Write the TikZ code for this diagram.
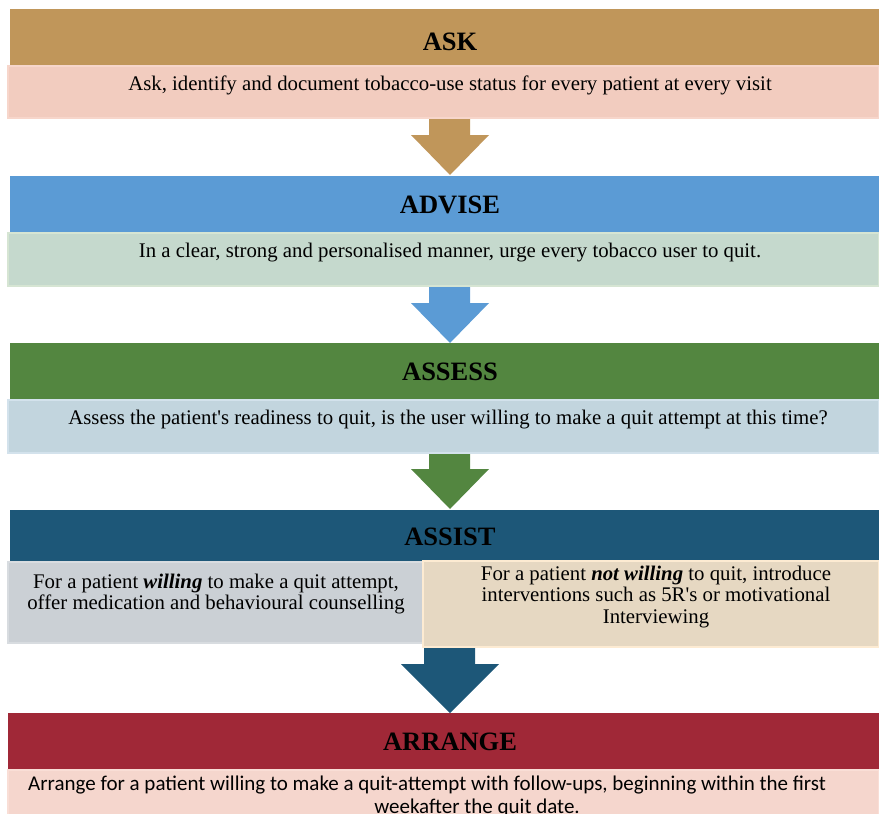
\documentclass[tikz,border=0pt]{standalone}
\usepackage{fontspec}
\setmainfont{Liberation Serif}[Ligatures=TeXOff]
\newfontfamily\calfont{Carlito}
\definecolor{askH}{RGB}{192,150,90}
\definecolor{askT}{RGB}{242,204,191}
\definecolor{askTb}{RGB}{247,214,203}
\definecolor{advH}{RGB}{91,155,213}
\definecolor{advT}{RGB}{197,217,205}
\definecolor{advTb}{RGB}{214,229,211}
\definecolor{assH}{RGB}{83,134,64}
\definecolor{assT}{RGB}{194,213,222}
\definecolor{assTb}{RGB}{211,226,236}
\definecolor{asiH}{RGB}{29,87,120}
\definecolor{asiL}{RGB}{203,208,213}
\definecolor{asiLb}{RGB}{216,220,224}
\definecolor{asiR}{RGB}{230,216,194}
\definecolor{asiRb}{RGB}{253,235,210}
\definecolor{arrH}{RGB}{160,40,55}
\definecolor{arrT}{RGB}{245,214,205}
\definecolor{arrTb}{RGB}{249,222,214}
\begin{document}
\begin{tikzpicture}[x=1pt,y=-1pt,
  box/.style={inner sep=0pt, outer sep=0pt, anchor=north west},
  hdbox/.style={box, minimum width=869pt, minimum height=#1},
  txbox/.style={box, line width=1.5pt},
  hd/.style={font=\fontsize{26.5}{30}\selectfont\bfseries, inner sep=0pt, anchor=center},
  bt/.style={font=\fontsize{20.8}{21.5}\selectfont, inner sep=0pt, align=center, anchor=north}]
\useasboundingbox (0,0) rectangle (879,814);
\clip (0,0) rectangle (879,814);
% block arrows (drawn first, boxes overlap them)
\fill[askH] (429,118) -- (470,118) -- (470,135) -- (489,135) -- (450,175) -- (411,135) -- (429,135) -- cycle;
\fill[advH] (429,286) -- (470,286) -- (470,303) -- (489,303) -- (450,343) -- (411,303) -- (429,303) -- cycle;
\fill[assH] (429,453) -- (470,453) -- (470,469) -- (489,469) -- (450,509) -- (411,469) -- (429,469) -- cycle;
\fill[asiH] (424,643) -- (475,643) -- (475,664) -- (499,664) -- (450,713) -- (401,664) -- (424,664) -- cycle;
% ASK
\node[hdbox=57pt, fill=askH] (askh) at (10,9) {};
\node[txbox, fill=askT, draw=askTb, minimum width=871pt, minimum height=52pt] (askt) at (8,66) {};
\node[hd] (askl) at (450,42) {ASK};
\node[bt] (askx) at (450,75.8) {Ask, identify and document tobacco-use status for every patient at every visit};
% ADVISE
\node[hdbox=57pt, fill=advH] (advh) at (10,176) {};
\node[txbox, fill=advT, draw=advTb, minimum width=871pt, minimum height=53pt] (advt) at (8,233) {};
\node[hd] (advl) at (450,204.5) {ADVISE};
\node[bt] (advx) at (450,242.8) {In a clear, strong and personalised manner, urge every tobacco user to quit.};
% ASSESS
\node[hdbox=57pt, fill=assH] (assh) at (10,343) {};
\node[txbox, fill=assT, draw=assTb, minimum width=871pt, minimum height=53pt] (asst) at (8,400) {};
\node[hd] (assl) at (450,371.5) {ASSESS};
\node[bt] (assx) at (448,409.8) {Assess the patient's readiness to quit, is the user willing to make a quit attempt at this time?};
% ASSIST
\node[hdbox=52pt, fill=asiH] (asih) at (10,510) {};
\node[txbox, fill=asiL, draw=asiLb, minimum width=415pt, minimum height=81pt] (asil) at (8,562) {};
\node[txbox, fill=asiR, draw=asiRb, minimum width=456pt, minimum height=86pt] (asir) at (423,561) {};
\node[hd] (asil2) at (450,537) {ASSIST};
\node[bt] (asilx) at (216,573.8) {For a patient \textbf{\textit{willing}} to make a quit attempt,\\offer medication and behavioural counselling};
\node[bt] (asirx) at (656,565.8) {For a patient \textbf{\textit{not willing}} to quit, introduce\\interventions such as 5R's or motivational\\Interviewing};
% ARRANGE
\node[box, minimum width=871pt, minimum height=57pt, fill=arrH] (arrh) at (8,713) {};
\node[txbox, fill=arrT, draw=arrTb, minimum width=871pt, minimum height=60pt] (arrt) at (8,770) {};
\node[hd] (arrl) at (450,742) {ARRANGE};
\node[font=\calfont\fontsize{21}{25}\selectfont, inner sep=0pt, anchor=base west] (arrx1) at (28,790) {Arrange for a patient willing to make a quit-attempt with follow-ups, beginning within the first};
\node[font=\calfont\fontsize{21}{25}\selectfont, inner sep=0pt, anchor=base] (arrx2) at (477,813) {weekafter the quit date.};
\end{tikzpicture}
\end{document}
